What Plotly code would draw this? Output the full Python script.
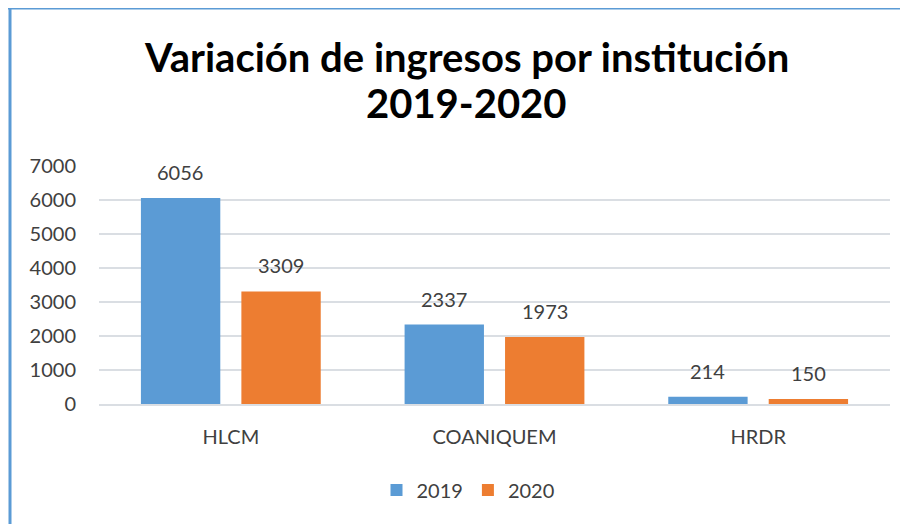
import plotly.graph_objects as go

categories = ["HLCM", "COANIQUEM", "HRDR"]
values_2019 = [6056, 2337, 214]
values_2020 = [3309, 1973, 150]
series_names = ["2019", "2020"]
y_ticks = [0, 1000, 2000, 3000, 4000, 5000, 6000, 7000]
title_lines = ["Variación de ingresos por institución", "2019-2020"]

colors = ["#5B9BD5", "#ED7D31"]
OFF = 8  # page body offset in browser
W, H = 908 - OFF, 524 - OFF
# screen coordinates of plot area: x 99..890, y 166..404
L, R, T, B = 99 - OFF, 908 - 890, 166 - OFF, 524 - 404
pw, ph = W - L - R, H - T - B

def px_x(px):
    return (px - OFF - L) / pw

def px_y(py):
    return (H - B - (py - OFF)) / ph

fig = go.Figure()
for name, vals, col in zip(series_names, [values_2019, values_2020], colors):
    fig.add_trace(go.Bar(x=categories, y=vals, name=name,
                         marker=dict(color=col, line=dict(width=0))))

ann = []
for vals, shift in [(values_2019, -50.5), (values_2020, 50.5)]:
    for c, v in zip(categories, vals):
        ann.append(dict(x=c, y=v, xref="x", yref="y", text=str(v), showarrow=False,
                        xshift=shift, yshift=12, yanchor="bottom",
                        font=dict(family="Lato", size=20, color="#404040")))
for line, ypx in zip(title_lines, [57, 103]):
    ann.append(dict(x=px_x(466), y=px_y(ypx), xref="paper", yref="paper", text="<b>" + line + "</b>",
                    showarrow=False, xanchor="center", yanchor="middle",
                    font=dict(family="Lato", size=40, color="#000000")))

fig.update_layout(
    width=W, height=H,
    margin=dict(l=L, r=R, t=T, b=B),
    paper_bgcolor="white", plot_bgcolor="white",
    barmode="group", bargap=0.238, bargroupgap=0.21,
    showlegend=True,
    legend=dict(orientation="h", x=px_x(468), xanchor="center", y=px_y(490), yanchor="middle",
                font=dict(family="Lato", size=20, color="#404040"),
                itemwidth=30, traceorder="normal"),
    annotations=ann,
    shapes=[
        dict(type="line", xref="paper", yref="paper", x0=px_x(6), x1=px_x(912), y0=px_y(8), y1=px_y(8),
             line=dict(color="#5B9BD5", width=3)),
        dict(type="line", xref="paper", yref="paper", x0=px_x(10), x1=px_x(10), y0=px_y(8), y1=px_y(530),
             line=dict(color="#5B9BD5", width=3)),
    ],
)
fig.update_yaxes(range=[0, 7000], tickvals=y_ticks, showgrid=True, gridcolor="#DADEE3", gridwidth=2,
                 zeroline=False, showline=False, ticks="", ticklabelstandoff=22,
                 tickfont=dict(family="Lato", size=20, color="#404040"), fixedrange=True)
fig.update_xaxes(showline=True, linecolor="#DADEE3", linewidth=2, ticks="", ticklabelstandoff=14,
                 tickfont=dict(family="Lato", size=20, color="#404040"), fixedrange=True)

fig.write_html("out.html")
